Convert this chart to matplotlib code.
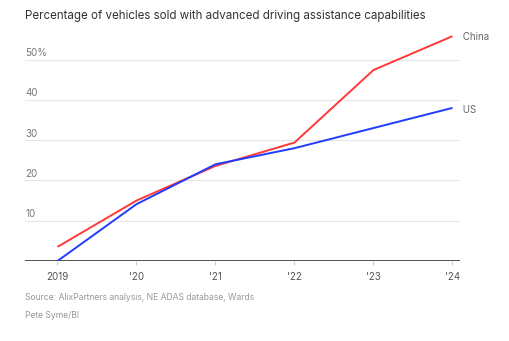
import matplotlib
matplotlib.use("Agg")
import matplotlib.pyplot as plt

years = [2019, 2020, 2021, 2022, 2023, 2024]
year_labels = ["2019", "'20", "'21", "'22", "'23", "'24"]
china = [3.5, 15.0, 23.6, 29.4, 47.4, 55.8]
us = [0.0, 14.1, 24.0, 28.0, 33.0, 38.0]
y_ticks = [10, 20, 30, 40, 50]
y_labels = ["10", "20", "30", "40", "50%"]

plt.rcParams["font.family"] = ["Inter", "DejaVu Sans"]

W, H = 509, 341
fig = plt.figure(figsize=(W / 100, H / 100), dpi=100)
ax = fig.add_axes([25 / W, 1 - 261 / H, 435 / W, (261 - 27.3) / H])

ax.set_xlim(2018.589, 2024.095)
ax.set_ylim(0, 58)

for t in y_ticks:
    ax.axhline(t, color="#e6e6e6", lw=0.8, zorder=0)
ax.axhline(0, color="#333333", lw=1.2, zorder=3)

ax.plot(years, china, color="#ff3838", lw=1.4, zorder=4, solid_capstyle="butt")
ax.plot(years, us, color="#1f3cff", lw=1.4, zorder=5, solid_capstyle="butt")

ax.text(2024.095, china[-1] - 0.3, " China", color="#666666", fontsize=7,
        va="center", ha="left")
ax.text(2024.095, us[-1] - 0.5, " US", color="#666666", fontsize=7,
        va="center", ha="left")

for t, lab in zip(y_ticks, y_labels):
    ax.text(2018.589, t + 0.4, lab, color="#777777", fontsize=7, ha="left", va="bottom")

ax.set_xticks(years)
ax.set_xticklabels(year_labels, color="#555555", fontsize=7)
ax.tick_params(axis="x", length=3, color="#cccccc", pad=5)
ax.set_yticks([])
for s in ax.spines.values():
    s.set_visible(False)

fig.text(25 / W, 1 - 16 / H, "Percentage of vehicles sold with advanced driving assistance capabilities",
         fontsize=8.3, color="#333333", va="center", ha="left")
fig.text(25 / W, 1 - 297 / H, "Source: AlixPartners analysis, NE ADAS database, Wards",
         fontsize=6.2, color="#999999", va="center", ha="left")
fig.text(25 / W, 1 - 316 / H, "Pete Syme/BI",
         fontsize=6.2, color="#999999", va="center", ha="left")

fig.savefig("out.png", dpi=100)
